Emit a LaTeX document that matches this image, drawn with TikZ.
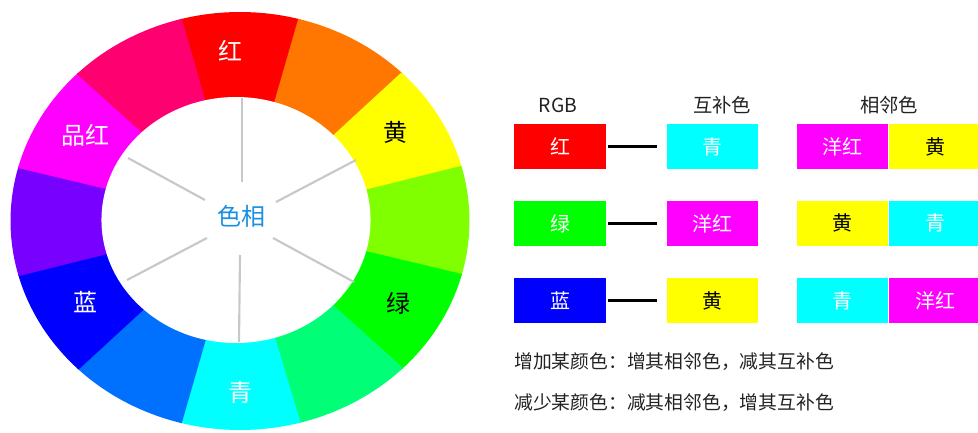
\documentclass[tikz,border=0pt]{standalone}
\usepackage{fontspec}
\setmainfont{Noto Sans CJK SC}
\definecolor{cRed}{HTML}{FF0000}
\definecolor{cOrange}{HTML}{FF7700}
\definecolor{cYellow}{HTML}{FFFF00}
\definecolor{cChart}{HTML}{7FFF00}
\definecolor{cGreen}{HTML}{00FF00}
\definecolor{cSpring}{HTML}{00FF77}
\definecolor{cCyan}{HTML}{00FFFF}
\definecolor{cAzure}{HTML}{0070FF}
\definecolor{cBlue}{HTML}{0000FF}
\definecolor{cViolet}{HTML}{7700FF}
\definecolor{cMagenta}{HTML}{FF00FF}
\definecolor{cRose}{HTML}{FF0070}
\definecolor{hueBlue}{HTML}{1A8FE3}
\definecolor{spokeGray}{HTML}{C8C8C8}
\definecolor{txtDark}{HTML}{222222}
\tikzset{
  wheellab/.style={font=\fontsize{18}{18}\selectfont, inner sep=0pt},
  hdr/.style={font=\fontsize{14.5}{14.5}\selectfont, inner sep=0pt, text=txtDark},
  cbox/.style={minimum width=68.5pt, minimum height=33.75pt, inner sep=0pt,
    font=\fontsize{15}{15}\selectfont, text=white},
  conn/.style={line width=2.2pt, black, shorten <=1.8pt, shorten >=7.3pt},
  spoke/.style={line width=1.6pt, spokeGray},
  note/.style={font=\fontsize{14.1}{14.1}\selectfont, inner sep=0pt, anchor=west, text=txtDark}
}
\begin{document}
\begin{tikzpicture}[x=0.75pt,y=-0.75pt]
\useasboundingbox (0,0) rectangle (978,432);
% colour wheel
\foreach \c/\col in {-90/cRed,-60/cOrange,-30/cYellow,0/cChart,30/cGreen,60/cSpring,
                     90/cCyan,120/cAzure,150/cBlue,180/cViolet,210/cMagenta,240/cRose}{
  \pgfmathsetmacro\sa{\c-15.3}
  \pgfmathsetmacro\ea{\c+15.3}
  \fill[\col] (240,221) -- plot[domain=\sa:\ea, samples=20] ({240+229.5*cos(\x)},{221+209*sin(\x)}) -- cycle;
}
\fill[white] (236,220) ellipse [x radius=100.9pt, y radius=92.25pt];
% spokes
\draw[spoke] (242,98) -- (242,182);
\draw[spoke] (240,255) -- (239,342);
\draw[spoke] (276,202) -- (356,160);
\draw[spoke] (273,238) -- (354,282);
\draw[spoke] (128,158) -- (205,200);
\draw[spoke] (127,280) -- (207,238);
% wheel labels
\node[wheellab, text=white] (wR) at (230,51) {红};
\node[wheellab, text=black] (wY) at (395,132) {黄};
\node[wheellab, text=black] (wG) at (398,303) {绿};
\node[wheellab, text=white] (wC) at (240,392) {青};
\node[wheellab, text=white] (wB) at (85,302) {蓝};
\node[wheellab, text=white] (wM) at (85,135) {品红};
\node[wheellab, text=hueBlue] (hue) at (241,216) {色相};
% headers
\node[hdr] (hRGB) at (558,105) {RGB};
\node[hdr] (hComp) at (722,105) {互补色};
\node[hdr] (hAdj) at (889,105) {相邻色};
% boxes
\node[cbox, fill=cRed] (r1) at (560,146.8) {红};
\node[cbox, fill=cGreen] (r2) at (560,223.4) {绿};
\node[cbox, fill=cBlue] (r3) at (560,300.8) {蓝};
\node[cbox, fill=cCyan] (c1) at (712.2,146.8) {青};
\node[cbox, fill=cMagenta] (c2) at (712.2,223.4) {洋红};
\node[cbox, fill=cYellow, text=black] (c3) at (712.2,300.8) {黄};
\node[cbox, fill=cMagenta] (a1) at (842.8,146.8) {洋红};
\node[cbox, fill=cYellow, text=black] (b1) at (935,146.8) {黄};
\node[cbox, fill=cYellow, text=black] (a2) at (842.8,223.4) {黄};
\node[cbox, fill=cCyan] (b2) at (935,223.4) {青};
\node[cbox, fill=cCyan] (a3) at (842.8,300.8) {青};
\node[cbox, fill=cMagenta] (b3) at (935,300.8) {洋红};
% connectors
\draw[conn] (r1.east) -- (c1.west);
\draw[conn] (r2.east) -- (c2.west);
\draw[conn] (r3.east) -- (c3.west);
% notes
\node[note] (n1) at (514,362) {增加某颜色：增其相邻色，减其互补色};
\node[note] (n2) at (514,403) {减少某颜色：减其相邻色，增其互补色};
\end{tikzpicture}
\end{document}
